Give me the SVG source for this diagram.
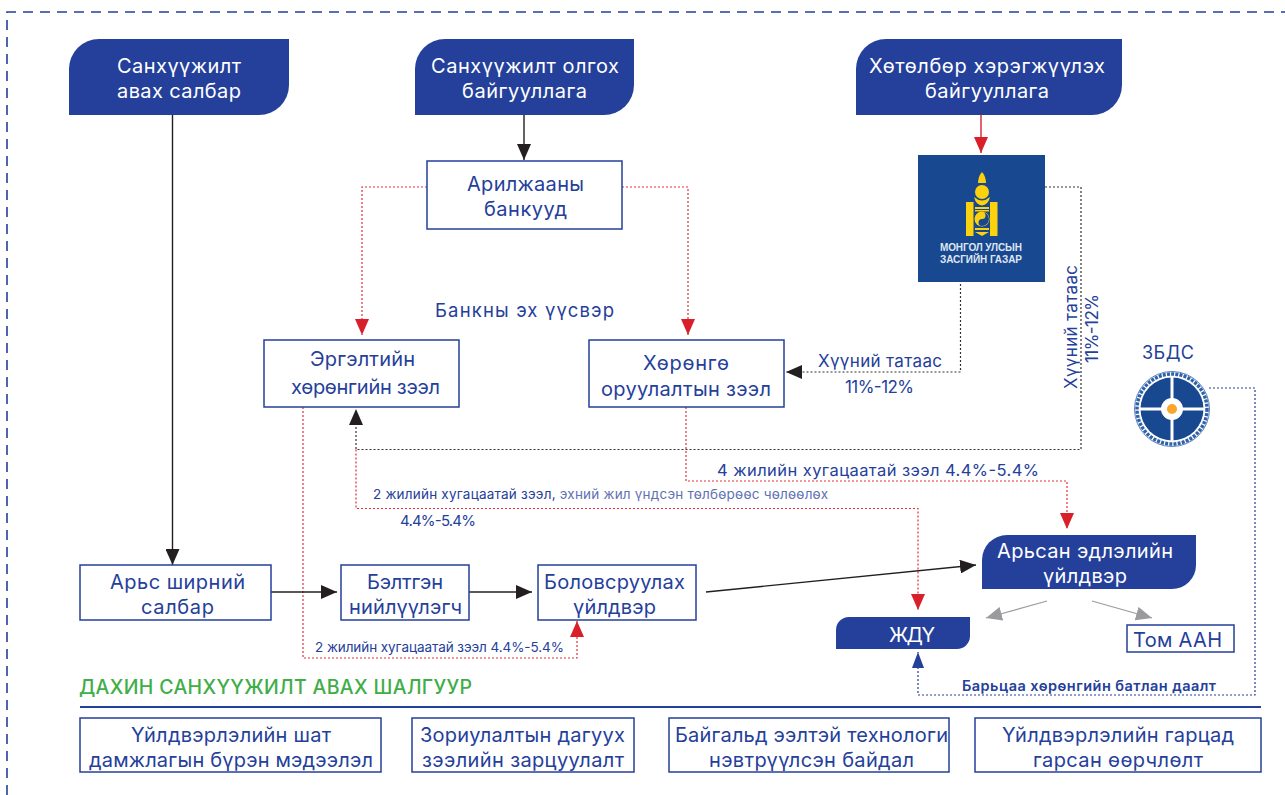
<svg xmlns="http://www.w3.org/2000/svg" width="1285" height="795" viewBox="0 0 1285 795">
<style>
text{font-family:Inter,"Noto Sans","DejaVu Sans",sans-serif;fill:#24409a;font-size:20px}
.w{fill:#fff}
.m{font-size:17px}
.t{font-size:13.500px}
.e{font-size:10px;font-weight:700;fill:#dfe6f2;font-family:"Liberation Sans",sans-serif}
.box{fill:#fff;stroke:#24409a;stroke-width:1.5}
.hd{fill:#24409a}
.k{fill:none;stroke:#231f20;stroke-width:1.4}
.r{fill:none;stroke:#e5303a;stroke-width:1.2;stroke-dasharray:2 2}
.kd{fill:none;stroke:#333;stroke-width:1.2;stroke-dasharray:2 2}
.bd{fill:none;stroke:#24409a;stroke-width:1.2;stroke-dasharray:2 2}
.g{fill:none;stroke:#9b9b9e;stroke-width:1.2}
</style>
<defs>
<marker id="mk" markerUnits="userSpaceOnUse" markerWidth="16" markerHeight="14" refX="16" refY="7" orient="auto"><path d="M0 0L16 7L0 14Z" fill="#231f20"/></marker>
<marker id="mr" markerUnits="userSpaceOnUse" markerWidth="16" markerHeight="14" refX="16" refY="7" orient="auto"><path d="M0 0L16 7L0 14Z" fill="#d9202a"/></marker>
<marker id="mb" markerUnits="userSpaceOnUse" markerWidth="16" markerHeight="14" refX="16" refY="7" orient="auto"><path d="M0 1L16 7L0 13Z" fill="#24409a"/></marker>
<marker id="mg" markerUnits="userSpaceOnUse" markerWidth="16" markerHeight="14" refX="16" refY="7" orient="auto"><path d="M0 0L16 7L0 14Z" fill="#9b9b9e"/></marker>
</defs>
<path d="M7 795V12H1285" fill="none" stroke="#24409a" stroke-width="1.6" stroke-dasharray="10 7"/>
<g id="connectors">
<path class="k" d="M172.500 115V565" marker-end="url(#mk)"/>
<path class="k" d="M524 115V160" marker-end="url(#mk)"/>
<path d="M981 115V153" fill="none" stroke="#d9202a" stroke-width="1.4" marker-end="url(#mr)"/>
<path class="r" d="M427 187H362V335" marker-end="url(#mr)"/>
<path class="r" d="M622 187H688V335" marker-end="url(#mr)"/>
<path class="kd" d="M960.500 284V372H786" marker-end="url(#mk)"/>
<path class="kd" d="M1045 187H1081V449.500H356V409" marker-end="url(#mk)"/>
<path class="r" d="M356 449.500V508.500H918V610" marker-end="url(#mr)"/>
<path class="r" d="M686 407V481H1067V529" marker-end="url(#mr)"/>
<path class="r" d="M303 407V658H577V621" marker-end="url(#mr)"/>
<path class="k" d="M271 592H337" marker-end="url(#mk)"/>
<path class="k" d="M469 592H532" marker-end="url(#mk)"/>
<path class="k" d="M706 592L976 565" marker-end="url(#mk)"/>
<path class="g" d="M1047 601L986 618" marker-end="url(#mg)"/>
<path class="g" d="M1092 601L1152 618" marker-end="url(#mg)"/>
<path class="bd" d="M1209 388H1255V695H918V652" marker-end="url(#mb)"/>
</g>
<g id="n-salbar"><path class="hd" d="M69 115V69A30 30 0 0 1 99 39H289V85A30 30 0 0 1 259 115Z"/><text class="w" x="117" y="73" textLength="124">Санхүүжилт</text><text class="w" x="117" y="98" textLength="124">авах салбар</text></g>
<g id="n-olgoh"><path class="hd" d="M415 115V69A30 30 0 0 1 445 39H634V85A30 30 0 0 1 604 115Z"/><text class="w" x="431" y="73" textLength="188">Санхүүжилт олгох</text><text class="w" x="462" y="98" textLength="125">байгууллага</text></g>
<g id="n-hotolbor"><path class="hd" d="M856 115V69A30 30 0 0 1 886 39H1122V85A30 30 0 0 1 1092 115Z"/><text class="w" x="869" y="73" textLength="236">Хөтөлбөр хэрэгжүүлэх</text><text class="w" x="925" y="98" textLength="124">байгууллага</text></g>
<g id="n-bank"><rect class="box" x="427" y="161" width="195" height="68"/><text x="467" y="191" textLength="117">Арилжааны</text><text x="484" y="216" textLength="83">банкууд</text></g>
<g id="n-gov"><rect x="918" y="155" width="127" height="127" fill="#18488f"/>
<g fill="#fcd20f"><path d="M982 172c-3 3-4 8-4 11h8c0-3-1-8-4-11z"/><circle cx="982" cy="192" r="7"/><path d="M974 197q8 7 16 0q-2 8-8 8.500q-6-.5-8-8.500z"/><rect x="966" y="202" width="7.500" height="34"/><rect x="990" y="202" width="7.500" height="34"/><rect x="975" y="207" width="14" height="2"/><rect x="975" y="210" width="14" height="1.500"/><rect x="975" y="228" width="14" height="2"/><path d="M975 232h14l-7 4z"/><circle cx="982" cy="219" r="7.500"/></g>
<path d="M982 212a3.500 3.500 0 0 1 0 7a3.500 3.500 0 0 0 0 7a7 7 0 0 0 0-14z" fill="#18488f"/>
<text class="e" x="940" y="251" textLength="82">МОНГОЛ УЛСЫН</text><text class="e" x="940" y="263" textLength="82">ЗАСГИЙН ГАЗАР</text></g>
<text x="435" y="317" textLength="179" style="font-size:18.500px">Банкны эх үүсвэр</text>
<g id="n-ergelt"><rect class="box" x="264" y="340" width="195" height="67"/><text x="310" y="366" textLength="105">Эргэлтийн</text><text x="291" y="394" textLength="149">хөрөнгийн зээл</text></g>
<g id="n-horongo"><rect class="box" x="589" y="340" width="195" height="67"/><text x="643" y="370" textLength="86">Хөрөнгө</text><text x="601" y="396" textLength="170">оруулалтын зээл</text></g>
<text class="m" x="818" y="367" textLength="124">Хүүний татаас</text>
<text class="m" x="845" y="393" textLength="69">11%-12%</text>
<text class="m" transform="translate(1077 389) rotate(-90)" textLength="124">Хүүний татаас</text>
<text class="m" transform="translate(1098 363) rotate(-90)" textLength="69">11%-12%</text>
<text x="1142" y="359" textLength="52" style="font-size:18px">ЗБДС</text>
<g id="n-zbds"><circle cx="1172" cy="409" r="37.500" fill="#fff" stroke="#2f62ab" stroke-width=".8"/><circle cx="1172" cy="409" r="35" fill="none" stroke="#2f62ab" stroke-width="3.500" stroke-dasharray="3 1.200"/><circle cx="1172" cy="409" r="31.500" fill="#18488f"/><path d="M1172 377V441M1140 409H1204" stroke="#fff" stroke-width="3"/><circle cx="1172" cy="409" r="11" fill="#fff"/><circle cx="1172" cy="409" r="5" fill="#f9a72b"/></g>
<text x="717" y="476" textLength="322" style="font-size:16.500px">4 жилийн хугацаатай зээл 4.4%-5.4%</text>
<text class="t" x="373" y="499" textLength="455">2 жилийн хугацаатай зээл, <tspan fill="#5f72b3">эхний жил үндсэн төлбөрөөс чөлөөлөх</tspan></text>
<text x="400" y="526" textLength="76" style="font-size:15px">4.4%-5.4%</text>
<g id="n-ars"><rect class="box" x="80" y="565" width="191" height="55"/><text x="110" y="589" textLength="135">Арьс ширний</text><text x="141" y="614" textLength="73">салбар</text></g>
<g id="n-belt"><rect class="box" x="341" y="565" width="128" height="55"/><text x="367" y="589" textLength="76">Бэлтгэн</text><text x="349" y="614" textLength="113">нийлүүлэгч</text></g>
<g id="n-bol"><rect class="box" x="538" y="565" width="158" height="55"/><text x="544" y="589" textLength="141">Боловсруулах</text><text x="573" y="614" textLength="83">үйлдвэр</text></g>
<g id="n-arsan"><path class="hd" d="M982 589V560A25 25 0 0 1 1007 535H1196V565A24 24 0 0 1 1172 589Z"/><text class="w" x="997" y="558" textLength="176">Арьсан эдлэлийн</text><text class="w" x="1043" y="583" textLength="84">үйлдвэр</text></g>
<g id="n-jdu"><path class="hd" d="M836 649V630A13 13 0 0 1 849 617H970V636A13 13 0 0 1 957 649Z"/><text class="w" x="889" y="642" textLength="46">ЖДҮ</text></g>
<g id="n-tom"><rect class="box" x="1127" y="625" width="107" height="27"/><text x="1133" y="647" textLength="89">Том ААН</text></g>
<text class="t" x="315" y="652" textLength="249">2 жилийн хугацаатай зээл 4.4%-5.4%</text>
<text x="962" y="691" textLength="254" style="font-size:14.500px;font-weight:600">Барьцаа хөрөнгийн батлан даалт</text>
<text x="79" y="694" textLength="393" style="font-size:19.500px;font-weight:500;fill:#3fae49">ДАХИН САНХҮҮЖИЛТ АВАХ ШАЛГУУР</text>
<path d="M80 707H1261" stroke="#24409a" stroke-width="2"/>
<g id="n-c1"><rect class="box" x="80" y="718" width="301" height="54"/><text x="131" y="742" textLength="200">Үйлдвэрлэлийн шат</text><text x="89" y="767" textLength="284">дамжлагын бүрэн мэдээлэл</text></g>
<g id="n-c2"><rect class="box" x="412" y="718" width="222" height="54"/><text x="420" y="742" textLength="205">Зориулалтын дагуух</text><text x="422" y="767" textLength="202">зээлийн зарцуулалт</text></g>
<g id="n-c3"><rect class="box" x="669" y="718" width="280" height="54"/><text x="675" y="742" textLength="273">Байгальд ээлтэй технологи</text><text x="709" y="767" textLength="205">нэвтрүүлсэн байдал</text></g>
<g id="n-c4"><rect class="box" x="975" y="718" width="286" height="54"/><text x="1002" y="742" textLength="232">Үйлдвэрлэлийн гарцад</text><text x="1033" y="767" textLength="170">гарсан өөрчлөлт</text></g>
</svg>
